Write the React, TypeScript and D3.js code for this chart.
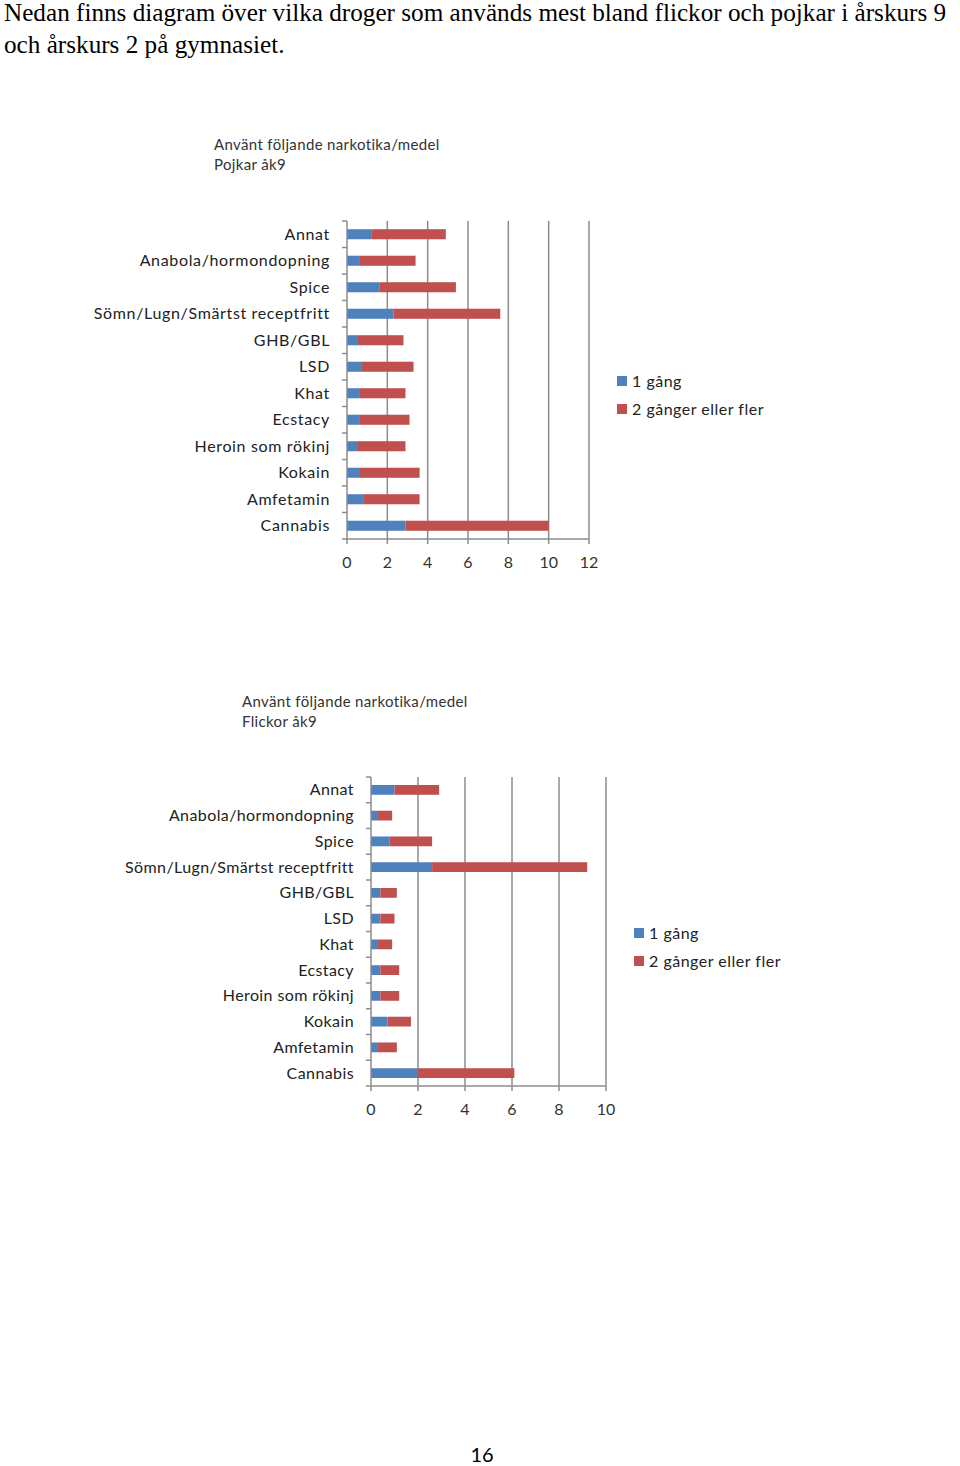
import React from 'react';
import * as d3 from 'd3';

// drug categories, top to bottom as in the charts
const categories = [
  'Annat',
  'Anabola/hormondopning',
  'Spice',
  'Sömn/Lugn/Smärtst receptfritt',
  'GHB/GBL',
  'LSD',
  'Khat',
  'Ecstacy',
  'Heroin som rökinj',
  'Kokain',
  'Amfetamin',
  'Cannabis',
];

const seriesNames = ['1 gång', '2 gånger eller fler'];

// Pojkar åk9
const boysOnce = [1.2, 0.6, 1.6, 2.3, 0.5, 0.7, 0.6, 0.6, 0.5, 0.6, 0.8, 2.9];
const boysMore = [3.7, 2.8, 3.8, 5.3, 2.3, 2.6, 2.3, 2.5, 2.4, 3.0, 2.8, 7.1];
const boysTicks = [0, 2, 4, 6, 8, 10, 12];

// Flickor åk9
const girlsOnce = [1.0, 0.3, 0.8, 2.6, 0.4, 0.4, 0.3, 0.4, 0.4, 0.7, 0.3, 2.0];
const girlsMore = [1.9, 0.6, 1.8, 6.6, 0.7, 0.6, 0.6, 0.8, 0.8, 1.0, 0.8, 4.1];
const girlsTicks = [0, 2, 4, 6, 8, 10];

const colors = ['#4F81BD', '#C0504D'];
const chartFont = 'Lato, "Open Sans", sans-serif';
const grid = '#8c8c8c';

type ChartProps = {
  subtitle: string;
  once: number[];
  more: number[];
  ticks: number[];
  left: number;
  right: number;
  top: number;
  bottom: number;
  titleX: number;
  titleY: number;
  legendX: number;
  legendY: number;
  labelSpacing: number;
};

function StackedChart(p: ChartProps) {
  const x = d3.scaleLinear().domain([0, p.ticks[p.ticks.length - 1]]).range([p.left, p.right]);
  const y = d3.scaleBand<string>().domain(categories).range([p.top, p.bottom]).paddingInner(0.62).paddingOuter(0.31);
  const step = y.step();
  const bh = y.bandwidth();

  const rows = categories.map((c, i) => ({ c, once: p.once[i], more: p.more[i] }));
  const stacked = d3.stack<any>().keys(['once', 'more'])(rows);

  return (
    <g fontFamily={chartFont}>
      <text x={p.titleX} y={p.titleY} fontSize={15} letterSpacing={0.35} fill="#333">Använt följande narkotika/medel</text>
      <text x={p.titleX} y={p.titleY + 20} fontSize={15} letterSpacing={0.35} fill="#333">{p.subtitle}</text>

      {p.ticks.map(t => (
        <g key={t}>
          {t > 0 && <line x1={x(t)} x2={x(t)} y1={p.top} y2={p.bottom} stroke={grid} strokeWidth={1.5} />}
          <line x1={x(t)} x2={x(t)} y1={p.bottom} y2={p.bottom + 5} stroke={grid} strokeWidth={1.5} />
          <text x={x(t)} y={p.bottom + 29} textAnchor="middle" fontSize={16} fill="#333">{t}</text>
        </g>
      ))}

      {d3.range(categories.length + 1).map(i => (
        <line key={i} x1={p.left - 5} x2={p.left} y1={p.top + i * step} y2={p.top + i * step} stroke={grid} strokeWidth={1.5} />
      ))}

      {stacked.map((s, si) =>
        s.map((d, i) => (
          <rect key={si + '-' + i} x={x(d[0])} y={y(categories[i])} width={x(d[1]) - x(d[0])} height={bh} fill={colors[si]} />
        ))
      )}

      <line x1={p.left} x2={p.left} y1={p.top} y2={p.bottom} stroke={grid} strokeWidth={1.5} />
      <line x1={p.left} x2={p.right} y1={p.bottom} y2={p.bottom} stroke={grid} strokeWidth={1.5} />

      {categories.map(c => (
        <text key={c} x={p.left - 17} y={(y(c) ?? 0) + bh / 2} dy="0.35em" textAnchor="end" fontSize={16} letterSpacing={p.labelSpacing} fill="#222">{c}</text>
      ))}

      {seriesNames.map((n, i) => (
        <g key={n}>
          <rect x={p.legendX} y={p.legendY + i * 28 - 5} width={10} height={10} fill={colors[i]} />
          <text x={p.legendX + 15} y={p.legendY + i * 28} dy="0.35em" fontSize={16} letterSpacing={0.5} fill="#222">{n}</text>
        </g>
      ))}
    </g>
  );
}

export default function App() {
  return (
    <svg width={960} height={1466} style={{ position: 'absolute', left: 0, top: 0, background: '#fff' }}>
      <g fontFamily='"Liberation Serif", "Times New Roman", serif' fontSize={25.2} fill="#000">
        <text x={4} y={21}>Nedan finns diagram över vilka droger som används mest bland flickor och pojkar i årskurs 9</text>
        <text x={4} y={53}>och årskurs 2 på gymnasiet.</text>
      </g>

      <StackedChart
        subtitle="Pojkar åk9"
        once={boysOnce}
        more={boysMore}
        ticks={boysTicks}
        left={347}
        right={589}
        top={221}
        bottom={539}
        titleX={214}
        titleY={150}
        legendX={617}
        legendY={381}
        labelSpacing={0.65}
      />

      <StackedChart
        subtitle="Flickor åk9"
        once={girlsOnce}
        more={girlsMore}
        ticks={girlsTicks}
        left={371}
        right={606}
        top={777}
        bottom={1086}
        titleX={242}
        titleY={707}
        legendX={634}
        legendY={933}
        labelSpacing={0.4}
      />

      <text x={482} y={1462} textAnchor="middle" fontFamily={chartFont} fontSize={20} fill="#000">16</text>
    </svg>
  );
}
